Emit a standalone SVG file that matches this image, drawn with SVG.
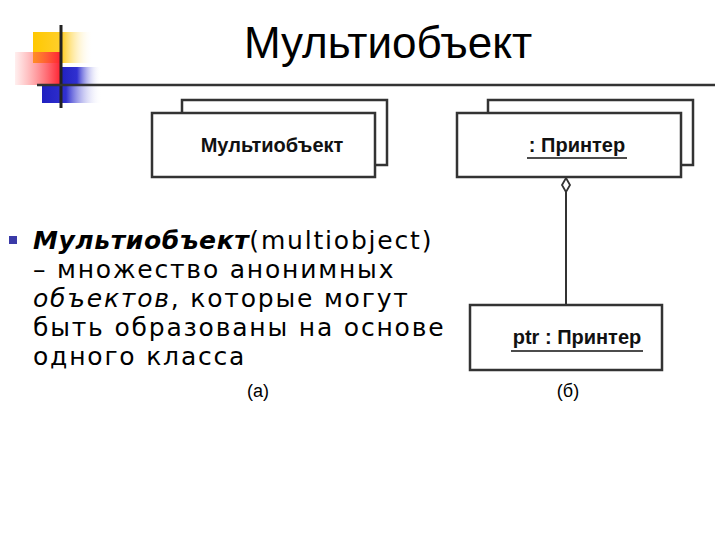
<svg xmlns="http://www.w3.org/2000/svg" width="720" height="540" viewBox="0 0 720 540">
<defs>
<linearGradient id="gy" x1="0" x2="1"><stop offset="0" stop-color="#ffc800"/><stop offset="0.5" stop-color="#ffd030"/><stop offset="1" stop-color="#ffffff" stop-opacity="0"/></linearGradient>
<linearGradient id="gr" x1="0" x2="1"><stop offset="0" stop-color="#ff6060" stop-opacity="0.1"/><stop offset="1" stop-color="#ff2030"/></linearGradient>
<linearGradient id="gb" x1="0" x2="1"><stop offset="0" stop-color="#2020c0"/><stop offset="0.4" stop-color="#3030d0"/><stop offset="1" stop-color="#ffffff" stop-opacity="0"/></linearGradient>
<style>
.box{fill:#fff;stroke:#333;stroke-width:2.5}
.lbl{font-family:"Liberation Sans",Arial,sans-serif;font-weight:bold;font-size:20px;fill:#111;text-anchor:middle}
.ul{stroke:#111;stroke-width:1.5}
.body{font-family:"DejaVu Sans",Verdana,sans-serif;font-size:25px;letter-spacing:1.8px;fill:#000}
.cap{font-family:"Liberation Sans",Arial,sans-serif;font-size:18px;fill:#000;text-anchor:middle}
</style>
</defs>
<rect width="720" height="540" fill="#fff"/>
<g id="logo">
<rect x="33" y="32" width="60" height="31" fill="url(#gy)"/>
<rect x="15" y="52" width="46" height="33" fill="url(#gr)"/>
<rect x="61" y="67" width="40" height="18" fill="url(#gb)"/>
<rect x="42" y="85" width="60" height="18" fill="url(#gb)"/>
<line x1="61" y1="25" x2="61" y2="108" stroke="#222" stroke-width="3"/>
<line x1="37" y1="85" x2="715" y2="85" stroke="#333" stroke-width="2.5"/>
</g>
<text x="388" y="58" font-family="Liberation Sans,Arial,sans-serif" font-size="44" text-anchor="middle" fill="#000">Мультиобъект</text>
<g id="multiobject">
<rect class="box" x="182" y="100" width="205" height="65"/>
<rect class="box" x="152" y="113" width="223" height="64"/>
<text class="lbl" x="272" y="152">Мультиобъект</text>
</g>
<g id="printers">
<rect class="box" x="488" y="100" width="205" height="65"/>
<rect class="box" x="457" y="113" width="224" height="64"/>
<text class="lbl" x="577" y="152">: Принтер</text>
<line class="ul" x1="527" y1="158" x2="627" y2="158"/>
</g>
<g id="ptr">
<rect class="box" x="470" y="305" width="192" height="65"/>
<text class="lbl" x="577" y="344">ptr : Принтер</text>
<line class="ul" x1="511" y1="351" x2="643" y2="351"/>
</g>
<g id="connectors">
<line x1="566" y1="192" x2="566" y2="305" stroke="#333" stroke-width="2"/>
<path d="M566 178 L570 185 L566 192 L562 185 Z" fill="#fff" stroke="#333" stroke-width="1.8"/>
</g>
<g id="text">
<rect x="9" y="236" width="8" height="8" fill="#3a3aa8"/>
<text class="body" x="33" y="249"><tspan font-weight="bold" font-style="italic" letter-spacing="0.6">Мультиобъект</tspan>(multiobject)</text>
<text class="body" x="33" y="278">– множество анонимных</text>
<text class="body" x="33" y="307"><tspan font-style="italic">объектов</tspan>, которые могут</text>
<text class="body" x="33" y="336">быть образованы на основе</text>
<text class="body" x="33" y="365">одного класса</text>
</g>
<text class="cap" x="258" y="397">(а)</text>
<text class="cap" x="568" y="397">(б)</text>
</svg>
